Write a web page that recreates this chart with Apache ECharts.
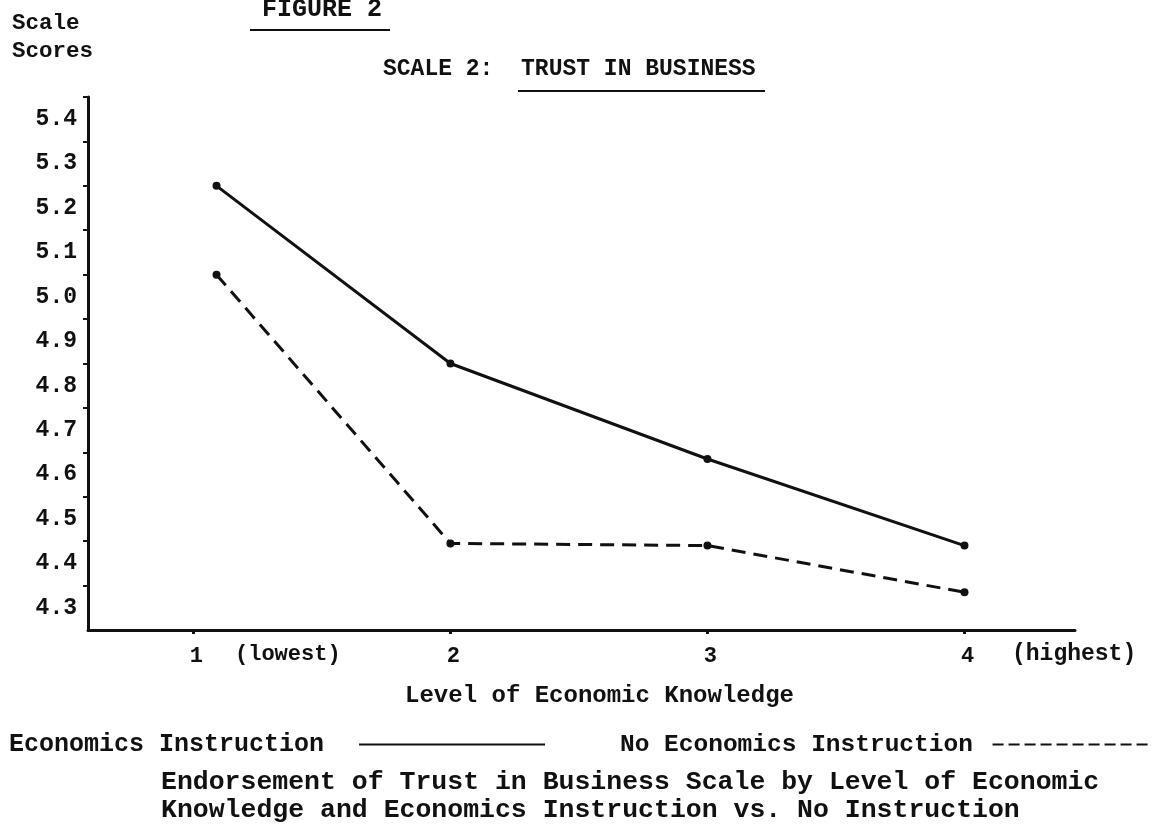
<!DOCTYPE html>
<html lang="en">
<head>
<meta charset="UTF-8">
<title>Figure 2 - Trust in Business</title>
<script src="https://cdn.jsdelivr.net/npm/echarts@6/dist/echarts.min.js"></script>
<style>html,body{margin:0;padding:0;background:#fff}</style>
</head>
<body>
<div id="main" style="width:1162px;height:831px"></div>
<script type="text/javascript">
// data
var levelTicks = [1, 2, 3, 4];
// level 1 points are drawn a little to the right of the "1" tick in the original
var econX = [1.09, 2, 3, 4];
var econValues = [5.25, 4.85, 4.635, 4.44];
var noEconX = [1.09, 2, 3, 4];
var noEconValues = [5.05, 4.445, 4.44, 4.335];
var yLabels = [4.3, 4.4, 4.5, 4.6, 4.7, 4.8, 4.9, 5.0, 5.1, 5.2, 5.3, 5.4];
var yTicks = [4.35, 4.45, 4.55, 4.65, 4.75, 4.85, 4.95, 5.05, 5.15, 5.25, 5.35, 5.45];

var font = "'Liberation Mono', 'DejaVu Sans Mono', monospace";
var ink = '#111';

function pairs(xs, ys) {
    var out = [];
    for (var i = 0; i < xs.length; i++) out.push([xs[i], ys[i]]);
    return out;
}

function txt(text, left, top, size) {
    return {
        type: 'text', left: left, top: top,
        style: { text: text, fill: ink, font: 'bold ' + (size || 22) + 'px ' + font }
    };
}

function rule(x1, x2, y) {
    return {
        type: 'line',
        shape: { x1: x1, y1: y, x2: x2, y2: y },
        style: { stroke: ink, lineWidth: 2 }
    };
}

var myChart = echarts.init(document.getElementById('main'));

var option = {
    backgroundColor: '#fff',
    animation: false,
    grid: { left: 88, right: 87, top: 97, bottom: 201 },
    xAxis: {
        type: 'value',
        min: 0.59,
        max: 4.43,
        splitLine: { show: false },
        axisLine: { lineStyle: { color: ink, width: 3 } },
        axisTick: { customValues: levelTicks, length: 4, lineStyle: { color: ink, width: 3 } },
        axisLabel: {
            customValues: levelTicks,
            margin: 15,
            color: ink,
            fontFamily: font,
            fontWeight: 'bold',
            fontSize: 22,
            padding: [0, 0, 0, 6]
        },
        name: 'Level of Economic Knowledge',
        nameLocation: 'middle',
        nameGap: 54,
        nameTextStyle: { color: ink, fontFamily: font, fontWeight: 'bold', fontSize: 24, padding: [0, 0, 0, 36] }
    },
    yAxis: {
        type: 'value',
        min: 4.25,
        max: 5.45,
        splitLine: { show: false },
        axisLine: { show: true, lineStyle: { color: ink, width: 3 } },
        axisTick: { show: true, customValues: yTicks, length: 5, lineStyle: { color: ink, width: 2 } },
        axisLabel: {
            customValues: yLabels,
            margin: 11,
            color: ink,
            fontFamily: font,
            fontWeight: 'bold',
            fontSize: 23,
            formatter: function (v) { return v.toFixed(1); }
        }
    },
    legend: [{
        data: ['Economics Instruction'],
        left: 4,
        top: 727,
        align: 'right',
        itemWidth: 186,
        itemHeight: 4,
        itemStyle: { opacity: 0 },
        formatter: function (n) { return n + '  '; },
        textStyle: { color: ink, fontFamily: font, fontWeight: 'bold', fontSize: 25 }
    }, {
        data: ['No Economics Instruction'],
        left: 615,
        top: 727,
        align: 'right',
        itemWidth: 160,
        itemHeight: 4,
        itemStyle: { opacity: 0 },
        lineStyle: { type: [11, 5] },
        formatter: function (n) { return n + ' '; },
        textStyle: { color: ink, fontFamily: font, fontWeight: 'bold', fontSize: 24.5 }
    }],
    series: [{
        name: 'Economics Instruction',
        type: 'line',
        data: pairs(econX, econValues),
        symbol: 'circle',
        symbolSize: 8,
        itemStyle: { color: ink },
        lineStyle: { color: ink, width: 3 }
    }, {
        name: 'No Economics Instruction',
        type: 'line',
        data: pairs(noEconX, noEconValues),
        symbol: 'circle',
        symbolSize: 8,
        itemStyle: { color: ink },
        lineStyle: { color: ink, width: 3, type: [14, 8] }
    }],
    graphic: [
        txt('Scale', 12, 12, 22.5),
        txt('Scores', 12, 40, 22.5),
        txt('FIGURE 2', 262, -3, 25),
        rule(250, 390, 30),
        txt('SCALE 2:  TRUST IN BUSINESS', 383, 58, 23),
        rule(518, 765, 91),
        txt('(lowest)', 235, 643, 22),
        txt('(highest)', 1012, 643, 23),
        txt('Endorsement of Trust in Business Scale by Level of Economic', 161, 769, 26.5),
        txt('Knowledge and Economics Instruction vs. No Instruction', 161, 797, 26.5)
    ]
};

myChart.setOption(option);
</script>
</body>
</html>
